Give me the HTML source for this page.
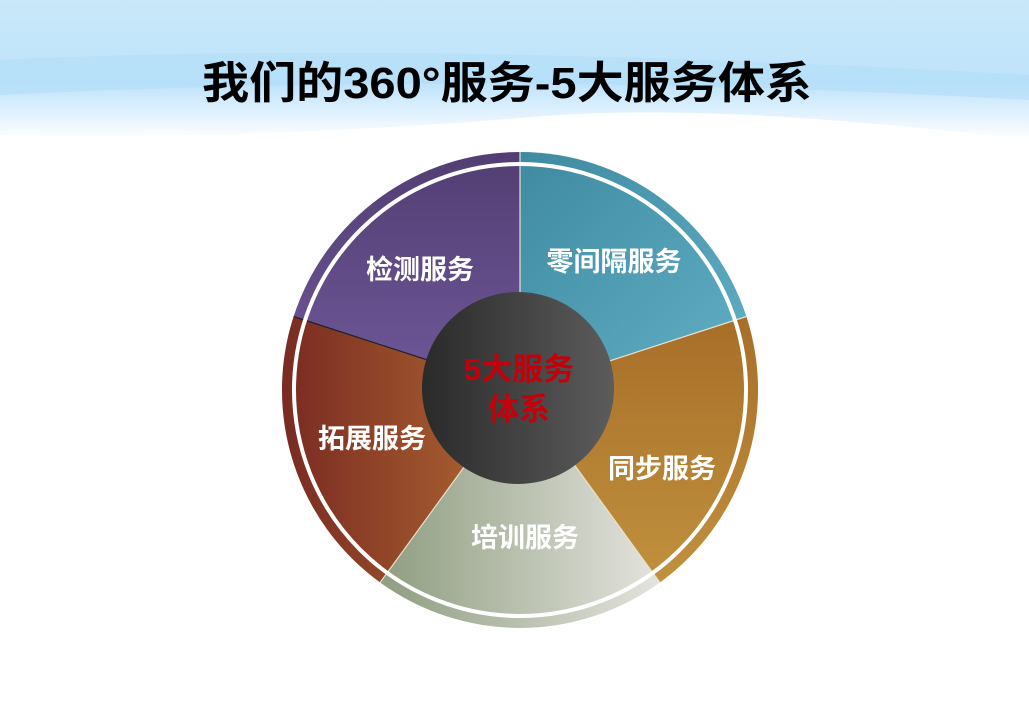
<!DOCTYPE html>
<html><head><meta charset="utf-8"><style>
html,body{margin:0;padding:0;background:#fff;}
body{width:1029px;height:717px;overflow:hidden;position:relative;font-family:"Liberation Sans","Noto Sans CJK SC",sans-serif;}
</style></head><body>
<svg width="1029" height="717" viewBox="0 0 1029 717" xmlns="http://www.w3.org/2000/svg" style="position:absolute;left:0;top:0">
<defs>
<linearGradient id="sky" x1="0" y1="0" x2="0" y2="1">
<stop offset="0" stop-color="#c9e8fa"/><stop offset="0.6" stop-color="#bfe3fb"/><stop offset="1" stop-color="#ffffff"/>
</linearGradient>
<linearGradient id="gp" x1="0" y1="0" x2="0" y2="1"><stop offset="0" stop-color="#523e72"/><stop offset="1" stop-color="#70589a"/></linearGradient>
<linearGradient id="gb" x1="0" y1="0" x2="1" y2="1"><stop offset="0" stop-color="#3f8aa0"/><stop offset="1" stop-color="#62b0c6"/></linearGradient>
<linearGradient id="go" x1="0" y1="0" x2="0" y2="1"><stop offset="0" stop-color="#a86e28"/><stop offset="1" stop-color="#c0913e"/></linearGradient>
<linearGradient id="gg" x1="0" y1="0" x2="1" y2="0"><stop offset="0" stop-color="#8f9d80"/><stop offset="1" stop-color="#e4e4de"/></linearGradient>
<linearGradient id="gr" x1="0" y1="0" x2="1" y2="0"><stop offset="0" stop-color="#7a2a22"/><stop offset="1" stop-color="#b06a32"/></linearGradient>
<linearGradient id="gc" x1="0" y1="0" x2="1" y2="0"><stop offset="0" stop-color="#2a2a2a"/><stop offset="1" stop-color="#5c5c5c"/></linearGradient>
</defs>
<path d="M0 0 H1029 V140 Q700 100 520 118 Q250 140 0 135 Z" fill="url(#sky)"/>
<path d="M0 60 Q400 40 1029 75 V100 Q500 70 0 95 Z" fill="#aedcf8" opacity="0.5"/>
<text x="202" y="98" textLength="610" lengthAdjust="spacingAndGlyphs" font-size="44" font-weight="bold" fill="#000" font-family="'Liberation Sans','Noto Sans CJK SC',sans-serif">我们的360°服务-5大服务体系</text>
<path d="M520 390 L520 152 A238 238 0 0 0 293.6 316.5 Z" fill="url(#gp)"/>
<path d="M520 390 L520 152 A238 238 0 0 1 746.4 316.5 Z" fill="url(#gb)"/>
<path d="M520 390 L746.4 316.5 A238 238 0 0 1 659.9 582.5 Z" fill="url(#go)"/>
<path d="M520 390 L659.9 582.5 A238 238 0 0 1 380.1 582.5 Z" fill="url(#gg)"/>
<path d="M520 390 L380.1 582.5 A238 238 0 0 1 293.6 316.5 Z" fill="url(#gr)"/>
<g stroke="#e8e0d0" stroke-width="1.2">
<line x1="520" y1="390" x2="520" y2="152"/><line x1="520" y1="390" x2="746.4" y2="316.5"/>
<line x1="520" y1="390" x2="659.9" y2="582.5"/><line x1="520" y1="390" x2="380.1" y2="582.5"/>
<line x1="520" y1="390" x2="293.6" y2="316.5" stroke="#222"/>
</g>
<circle cx="520" cy="390" r="226" fill="none" stroke="#fff" stroke-width="4"/>
<circle cx="518" cy="388" r="96" fill="url(#gc)"/>
<g font-weight="bold" font-size="27" fill="#fff" text-anchor="middle" font-family="'Liberation Sans','Noto Sans CJK SC',sans-serif">
<text x="420" y="279">检测服务</text>
<text x="614" y="271">零间隔服务</text>
<text x="372" y="448">拓展服务</text>
<text x="662" y="478">同步服务</text>
<text x="525" y="547">培训服务</text>
</g>
<g font-weight="bold" font-size="31" fill="#c4000a" text-anchor="middle" font-family="'Liberation Sans','Noto Sans CJK SC',sans-serif">
<text x="519" y="380">5大服务</text>
<text x="519" y="420">体系</text>
</g>
</svg>
</body></html>
